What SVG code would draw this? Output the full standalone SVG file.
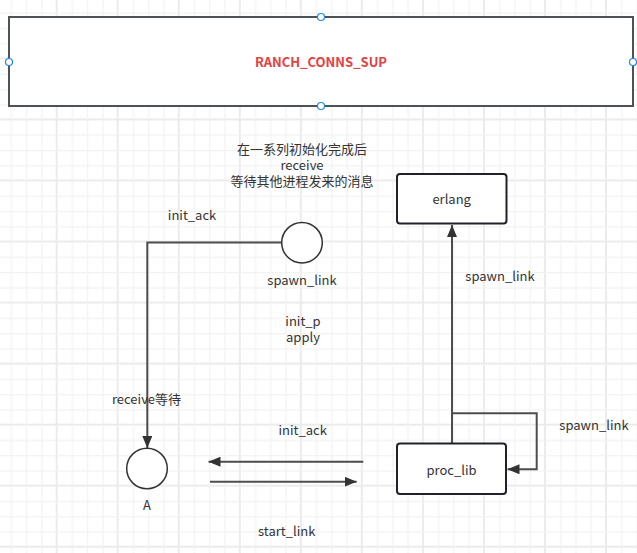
<svg xmlns="http://www.w3.org/2000/svg" width="637" height="553" viewBox="0 0 637 553">
<style>
text{font-family:"Noto Sans CJK SC","Noto Sans",sans-serif;font-size:13px;fill:#333;text-anchor:middle;dominant-baseline:central}
.box{fill:#fff;stroke:#1f2329;stroke-width:2}
.conn{fill:none;stroke:#4d4d4d;stroke-width:2}
.port{fill:#fff;stroke:#1e88e5;stroke-width:1.2}
</style>
<defs>
<pattern id="grid" patternUnits="userSpaceOnUse" x="55.7" y="179.5" width="61.04" height="61.04">
<path d="M1 0V61.04M0 1H61.04" stroke="#ebebeb" stroke-width="2" fill="none"/>
<path d="M16.76 0V61.04M32.02 0V61.04M47.28 0V61.04M0 16.76H61.04M0 32.02H61.04M0 47.28H61.04" stroke="#f2f2f2" stroke-width="1.2" fill="none"/>
</pattern>
<marker id="arr" viewBox="0 0 12 10" refX="12" refY="5" markerWidth="12" markerHeight="10" markerUnits="userSpaceOnUse" orient="auto">
<path d="M0 0L12 5L0 10z" fill="#333"/>
</marker>
</defs>
<rect width="637" height="553" fill="#fff"/>
<rect width="637" height="553" fill="url(#grid)"/>

<g id="connectors">
<path class="conn" d="M281.7 242.5H147.3V448" marker-end="url(#arr)"/>
<path class="conn" d="M452 443.5V225" marker-end="url(#arr)"/>
<path class="conn" d="M452 443.5V413.3H536.7V469.3H507.5" marker-end="url(#arr)"/>
<path class="conn" d="M363.3 461.7H208.5" marker-end="url(#arr)"/>
<path class="conn" d="M210 481.7H356.7" marker-end="url(#arr)"/>
</g>

<g id="sup">
<rect x="9" y="17" width="624" height="89" fill="#fff" stroke="#4d5257" stroke-width="2"/>
<text x="321" y="61.5" style="fill:#e04343;font-weight:bold">RANCH_CONNS_SUP</text>
<circle class="port" cx="321" cy="17" r="3.5"/>
<circle class="port" cx="9" cy="62" r="3.5"/>
<circle class="port" cx="633" cy="62" r="3.5"/>
<circle class="port" cx="321" cy="106" r="3.5"/>
</g>

<g id="note">
<text x="302" y="148.5">在一系列初始化完成后</text>
<text x="302" y="164.5">receive</text>
<text x="302" y="180.5">等待其他进程发来的消息</text>
</g>

<g id="erlang">
<rect class="box" x="397" y="174" width="109.5" height="49.5" rx="3"/>
<text x="451.7" y="198.5">erlang</text>
</g>

<g id="spawn_circle">
<circle cx="302" cy="242.7" r="20.3" fill="#fff" stroke="#333" stroke-width="1.5"/>
<text x="302" y="279">spawn_link</text>
</g>

<g id="A">
<circle cx="147" cy="468.5" r="20.3" fill="#fff" stroke="#333" stroke-width="1.5"/>
<text x="147" y="504">A</text>
</g>

<g id="proc_lib">
<rect class="box" x="397" y="443.5" width="109" height="50.5" rx="3"/>
<text x="451.5" y="469.5">proc_lib</text>
</g>

<g id="labels">
<text x="192" y="214">init_ack</text>
<text x="303" y="320.5">init_p</text>
<text x="303" y="336">apply</text>
<text x="146.5" y="398.5">receive等待</text>
<text x="500" y="275.7">spawn_link</text>
<text x="594" y="424">spawn_link</text>
<text x="302.7" y="429.7">init_ack</text>
<text x="286.7" y="530.5">start_link</text>
</g>
</svg>
